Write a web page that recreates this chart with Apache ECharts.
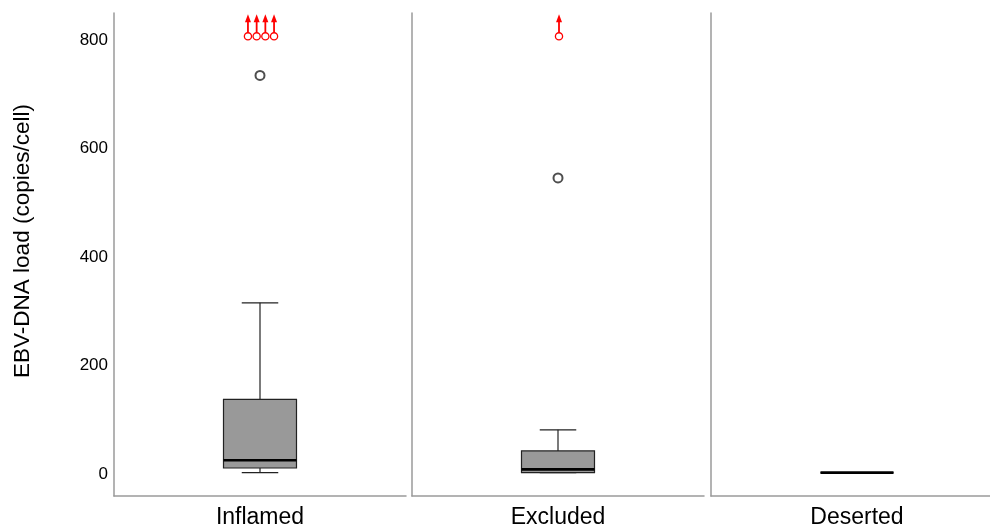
<!DOCTYPE html>
<html>
<head>
<meta charset="utf-8">
<script src="https://cdn.jsdelivr.net/npm/echarts@6/dist/echarts.min.js"></script>
<style>
  html, body { margin: 0; padding: 0; background: #fff; overflow: hidden; }
  /* the drawing is a little wider than the window; the last panel runs off the right edge */
  #chart { width: 1003px; height: 532px; }
</style>
</head>
<body>
<div id="chart"></div>
<script>
// Immune phenotype groups
const categories = ['Inflamed', 'Excluded', 'Deserted'];

// Box statistics per group (copies/cell)
const whiskerLow = [3, 3, 3];
const q1 = [11.6, 3, 3];
const median = [25.8, 9, 3];
const q3 = [138, 43, 3];
const whiskerHigh = [316, 82, 3];

// Outliers within the plotted range
const outliers = [[735], [546], []];

// Values beyond the axis top, drawn at the cap with an upward arrow
const offScaleCounts = [4, 1, 0];
const offScaleValue = 807;

// Axis settings
const yMin = -40;
const yMax = 850;
const yTicks = [0, 200, 400, 600, 800];
const yTitle = 'EBV-DNA load (copies/cell)';

const AXIS_COLOR = '#9a9a9a';
const FONT = 'Liberation Sans, Arial, sans-serif';
const panelLefts = [114, 412, 711];
const panelWidth = 292;
const gridTop = 13;
const gridBottom = 36;

const grids = [], xAxes = [], yAxes = [], series = [];

categories.forEach((cat, i) => {
  grids.push({ left: panelLefts[i], width: panelWidth, top: gridTop, bottom: gridBottom });
  xAxes.push({
    type: 'category', gridIndex: i, data: [cat],
    axisLine: { show: true, onZero: false, lineStyle: { color: AXIS_COLOR, width: 1.5 } },
    axisTick: { show: false },
    axisLabel: { fontSize: 23, color: '#000', margin: 10, fontFamily: FONT },
    splitLine: { show: false }
  });
  yAxes.push({
    type: 'value', gridIndex: i, min: yMin, max: yMax,
    axisLine: { show: true, lineStyle: { color: AXIS_COLOR, width: 1.5 } },
    axisTick: { show: false },
    splitLine: { show: false },
    axisLabel: i === 0 ? {
      show: true, customValues: yTicks, fontSize: 17, color: '#000', margin: 6, fontFamily: FONT
    } : { show: false }
  });

  // Box, whiskers and median
  series.push({
    type: 'custom', xAxisIndex: i, yAxisIndex: i,
    data: [[0, whiskerLow[i], q1[i], median[i], q3[i], whiskerHigh[i]]],
    renderItem: (params, api) => {
      const x = api.value(0);
      const band = api.size([1, 0])[0];
      const half = band * 0.125;
      const capHalf = half / 2;
      const pLo = api.coord([x, api.value(1)]);
      const pQ1 = api.coord([x, api.value(2)]);
      const pMed = api.coord([x, api.value(3)]);
      const pQ3 = api.coord([x, api.value(4)]);
      const pHi = api.coord([x, api.value(5)]);
      const cx = pMed[0];
      const ls = { stroke: '#222', lineWidth: 1.2 };
      return {
        type: 'group',
        children: [
          { type: 'line', shape: { x1: cx, y1: pQ3[1], x2: cx, y2: pHi[1] }, style: ls },
          { type: 'line', shape: { x1: cx, y1: pQ1[1], x2: cx, y2: pLo[1] }, style: ls },
          { type: 'line', shape: { x1: cx - capHalf, y1: pHi[1], x2: cx + capHalf, y2: pHi[1] }, style: ls },
          { type: 'line', shape: { x1: cx - capHalf, y1: pLo[1], x2: cx + capHalf, y2: pLo[1] }, style: ls },
          { type: 'rect', shape: { x: cx - half, y: pQ3[1], width: half * 2, height: pQ1[1] - pQ3[1] },
            style: { fill: '#999999', stroke: '#222', lineWidth: 1.2 } },
          { type: 'line', shape: { x1: cx - half, y1: pMed[1], x2: cx + half, y2: pMed[1] },
            style: { stroke: '#000', lineWidth: 2.6 } }
        ]
      };
    }
  });

  // Outlier points
  series.push({
    type: 'scatter', xAxisIndex: i, yAxisIndex: i,
    data: outliers[i].map(v => [0, v]),
    symbol: 'emptyCircle', symbolSize: 9,
    itemStyle: { color: '#222', borderWidth: 1 },
    z: 3
  });

  // Off-scale values with arrows
  const n = offScaleCounts[i];
  series.push({
    type: 'custom', xAxisIndex: i, yAxisIndex: i,
    data: Array.from({ length: n }, (_, k) => [0, offScaleValue, k, n]),
    renderItem: (params, api) => {
      const p = api.coord([api.value(0), api.value(1)]);
      const k = api.value(2), cnt = api.value(3);
      const cx = p[0] + 1 + (k - (cnt - 1) / 2) * 8.7;
      const cy = p[1];
      const r = 3.6;
      const red = '#ff0000';
      return {
        type: 'group',
        children: [
          { type: 'circle', shape: { cx: cx, cy: cy, r: r }, style: { fill: '#fff', stroke: red, lineWidth: 1.3 } },
          { type: 'line', shape: { x1: cx, y1: cy - r, x2: cx, y2: cy - 15 }, style: { stroke: red, lineWidth: 1.8 } },
          { type: 'polygon', shape: { points: [[cx, cy - 22], [cx - 3, cy - 14], [cx + 3, cy - 14]] }, style: { fill: red } }
        ]
      };
    },
    z: 4
  });
});

const chart = echarts.init(document.getElementById('chart'), null, { renderer: 'canvas' });
chart.setOption({
  animation: false,
  backgroundColor: '#fff',
  grid: grids,
  xAxis: xAxes,
  yAxis: yAxes,
  series: series,
  graphic: [{
    type: 'text', x: 23, y: 241, rotation: Math.PI / 2,
    style: {
      text: yTitle, fontSize: 22.5, fill: '#000', fontFamily: FONT,
      textAlign: 'center', textVerticalAlign: 'middle'
    }
  }]
});
</script>
</body>
</html>
